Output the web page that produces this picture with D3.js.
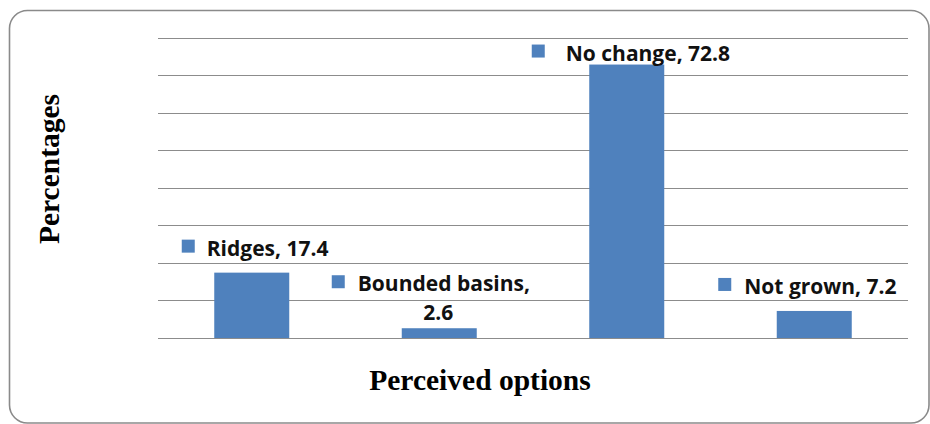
<!DOCTYPE html>
<html>
<head>
<meta charset="utf-8">
<script src="https://cdn.jsdelivr.net/npm/d3@7"></script>
<style>
  html, body { margin: 0; padding: 0; background: #fff; }
  svg { display: block; }
</style>
</head>
<body>
<svg id="chart" width="930" height="424"></svg>
<script>
// Perceived options and their share of respondents (%)
const categories = ["Ridges", "Bounded basins", "No change", "Not grown"];
const values = [17.4, 2.6, 72.8, 7.2];
const yTicks = [0, 10, 20, 30, 40, 50, 60, 70, 80];

const barColor = "#4F81BD";
const gridColor = "#8c8c8c";

const svg = d3.select("#chart");

// outer rounded frame
svg.append("rect")
  .attr("x", 9.5).attr("y", 10.5)
  .attr("width", 919.5).attr("height", 412.5)
  .attr("rx", 18).attr("ry", 18)
  .attr("fill", "#fff")
  .attr("stroke", "#8a8a8a")
  .attr("stroke-width", 1.6);

const x = d3.scaleBand()
  .domain(categories)
  .range([158, 908])
  .paddingInner(0.6)
  .paddingOuter(0.3);

const y = d3.scaleLinear()
  .domain([0, 80])
  .range([338, 37.5]);

// horizontal gridlines (the 0 line doubles as the category axis)
svg.append("g")
  .selectAll("line")
  .data(yTicks)
  .join("line")
  .attr("x1", 158).attr("x2", 908)
  .attr("y1", d => Math.round(y(d)) + 0.5)
  .attr("y2", d => Math.round(y(d)) + 0.5)
  .attr("stroke", gridColor)
  .attr("stroke-width", 1);

// bars
svg.append("g")
  .selectAll("rect")
  .data(values)
  .join("rect")
  .attr("x", (d, i) => x(categories[i]))
  .attr("width", x.bandwidth())
  .attr("y", d => y(d))
  .attr("height", d => y(0) - y(d))
  .attr("fill", barColor);

// data labels: legend key + "Category, value", placed relative to each bar top
const labelOffsets = [
  { dx: -70, dy: -17, gap: 25 },
  { dx: -107.5, dy: -37, gap: 26, wrap: true, dy2: -8 },
  { dx: -95, dy: -4, gap: 34 },
  { dx: -96, dy: -17, gap: 26 }
];

const labelFont = "'Open Sans', 'Liberation Sans', sans-serif";
const labelSize = 21;
const labels = svg.append("g");
values.forEach((v, i) => {
  const cx = x(categories[i]) + x.bandwidth() / 2;
  const top = y(v);
  const o = labelOffsets[i];
  const sx = cx + o.dx;
  const base = top + o.dy;
  labels.append("rect")
    .attr("x", sx).attr("y", base - 16)
    .attr("width", 13).attr("height", 13)
    .attr("fill", barColor);
  const t = labels.append("text")
    .attr("x", sx + o.gap).attr("y", base)
    .attr("font-family", labelFont)
    .attr("font-weight", 700)
    .attr("font-size", labelSize)
    .attr("fill", "#111");
  if (o.wrap) {
    t.text(categories[i] + ",");
    labels.append("text")
      .attr("x", cx - 1).attr("y", top + o.dy2)
      .attr("text-anchor", "middle")
      .attr("font-family", labelFont)
      .attr("font-weight", 700)
      .attr("font-size", labelSize)
      .attr("fill", "#111")
      .text(v);
  } else {
    t.text(categories[i] + ", " + v);
  }
});

// axis titles
svg.append("text")
  .attr("x", 480).attr("y", 390)
  .attr("text-anchor", "middle")
  .attr("font-family", "'Liberation Serif', 'Times New Roman', serif")
  .attr("font-weight", 700)
  .attr("font-size", 29.5)
  .attr("fill", "#000")
  .text("Perceived options");

svg.append("text")
  .attr("transform", "translate(59,169) rotate(-90)")
  .attr("text-anchor", "middle")
  .attr("font-family", "'Liberation Serif', 'Times New Roman', serif")
  .attr("font-weight", 700)
  .attr("font-size", 29.5)
  .attr("fill", "#000")
  .text("Percentages");
</script>
</body>
</html>
